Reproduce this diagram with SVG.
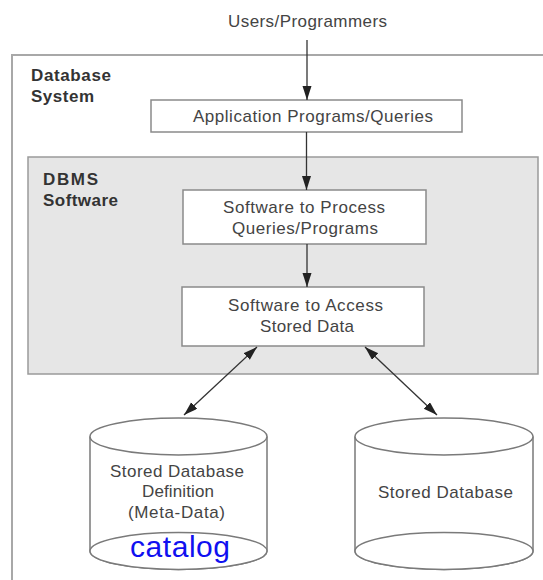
<svg xmlns="http://www.w3.org/2000/svg" width="543" height="580" viewBox="0 0 543 580">
  <style>
    .frame { fill: none; stroke: #a8a8a8; stroke-width: 2; }
    .dbms { fill: #e6e6e6; stroke: #9a9a9a; stroke-width: 1.5; }
    .box { fill: #ffffff; stroke: #8a8a8a; stroke-width: 1.5; }
    .cyl { fill: #ffffff; stroke: #7a7a7a; stroke-width: 1.5; }
    .lbl { font-family: "Liberation Sans", Arial, sans-serif; font-size: 17px; fill: #444444; }
    .ttl { font-family: "Liberation Sans", Arial, sans-serif; font-size: 17px; font-weight: bold; fill: #333333; }
    .cat { font-family: "Liberation Sans", Arial, sans-serif; font-size: 30px; fill: #1010f0; }
    .wire { fill: none; stroke: #333333; stroke-width: 1.3; }
  </style>
  <defs>
    <marker id="head" markerUnits="userSpaceOnUse" markerWidth="15" markerHeight="10" refX="14" refY="4.5" orient="auto-start-reverse">
      <path d="M0,0 L14,4.5 L0,9 Z" fill="#222222"/>
    </marker>
  </defs>

  <rect width="543" height="580" fill="#ffffff"/>

  <!-- outer system frame, open to the right and bottom -->
  <g id="database-system">
    <path class="frame" d="M12,580 V55 H543"/>
    <text class="ttl" x="31" y="81" textLength="80">Database</text>
    <text class="ttl" x="31" y="102" textLength="63">System</text>
  </g>

  <g id="users">
    <text class="lbl" x="228" y="27" textLength="159">Users/Programmers</text>
  </g>

  <g id="application-programs">
    <rect class="box" x="151" y="100" width="311" height="32"/>
    <text class="lbl" x="193" y="122" textLength="240">Application Programs/Queries</text>
  </g>

  <g id="dbms-software">
    <rect class="dbms" x="28" y="157" width="510" height="217"/>
    <text class="ttl" x="43" y="185" textLength="55">DBMS</text>
    <text class="ttl" x="43" y="206" textLength="75">Software</text>
  </g>

  <g id="query-processor">
    <rect class="box" x="183" y="190" width="243" height="54"/>
    <text class="lbl" x="223" y="213" textLength="162">Software to Process</text>
    <text class="lbl" x="232" y="234" textLength="146">Queries/Programs</text>
  </g>

  <g id="data-access">
    <rect class="box" x="182" y="287" width="242" height="59"/>
    <text class="lbl" x="228" y="311" textLength="155">Software to Access</text>
    <text class="lbl" x="260" y="332" textLength="94">Stored Data</text>
  </g>

  <g id="catalog-store">
    <path class="cyl" d="M90,436.5 V551 A88.5,18.5 0 0 0 267,551 V436.5"/>
    <ellipse class="cyl" cx="178.5" cy="551" rx="88.5" ry="18.5" fill="none"/>
    <ellipse class="cyl" cx="178.5" cy="436.5" rx="88.5" ry="18.5"/>
    <text class="lbl" x="110" y="477" textLength="134">Stored Database</text>
    <text class="lbl" x="142" y="497" textLength="72">Definition</text>
    <text class="lbl" x="128" y="518" textLength="97">(Meta-Data)</text>
    <text class="cat" x="130" y="557" textLength="100">catalog</text>
  </g>

  <g id="stored-database">
    <path class="cyl" d="M355,436.5 V551 A89,18.5 0 0 0 533,551 V436.5"/>
    <ellipse class="cyl" cx="444" cy="551" rx="89" ry="18.5" fill="none"/>
    <ellipse class="cyl" cx="444" cy="436.5" rx="89" ry="18.5"/>
    <text class="lbl" x="378" y="498" textLength="135">Stored Database</text>
  </g>

  <g id="connectors">
    <line class="wire" x1="307" y1="40" x2="307" y2="100" marker-end="url(#head)"/>
    <line class="wire" x1="306.5" y1="132" x2="306.5" y2="190" marker-end="url(#head)"/>
    <line class="wire" x1="307" y1="244" x2="307" y2="287" marker-end="url(#head)"/>
    <line class="wire" x1="257" y1="347" x2="184" y2="415" marker-start="url(#head)" marker-end="url(#head)"/>
    <line class="wire" x1="365" y1="347" x2="437" y2="415" marker-start="url(#head)" marker-end="url(#head)"/>
  </g>
</svg>
